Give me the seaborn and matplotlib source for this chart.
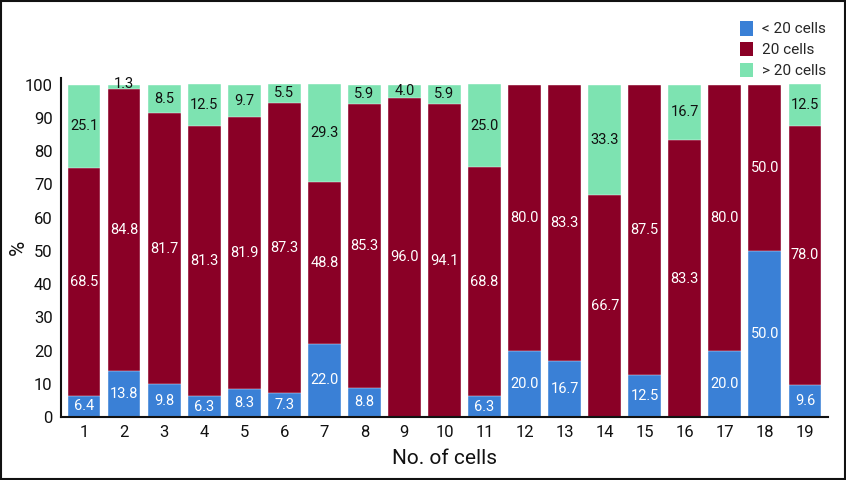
import numpy as np
import pandas as pd
import matplotlib
matplotlib.use("Agg")
import matplotlib.pyplot as plt
import seaborn as sns
from matplotlib.patches import Rectangle, Patch

categories = [str(i) for i in range(1, 20)]
lt20 = [6.4, 13.8, 9.8, 6.3, 8.3, 7.3, 22.0, 8.8, 0, 0, 6.3, 20.0, 16.7, 0, 12.5, 0, 20.0, 50.0, 9.6]
eq20 = [68.5, 84.8, 81.7, 81.3, 81.9, 87.3, 48.8, 85.3, 96.0, 94.1, 68.8, 80.0, 83.3, 66.7, 87.5, 83.3, 80.0, 50.0, 78.0]
gt20 = [25.1, 1.3, 8.5, 12.5, 9.7, 5.5, 29.3, 5.9, 4.0, 5.9, 25.0, 0, 0, 33.3, 0, 16.7, 0, 0, 12.5]
series_names = ["< 20 cells", "20 cells", "> 20 cells"]
colors = ["#3A80D6", "#8A0026", "#7DE3B1"]

sns.set_theme(style="white")
plt.rcParams["font.family"] = ["Roboto", "DejaVu Sans"]

df = pd.DataFrame({"cat": categories, "a": lt20, "b": eq20, "c": gt20})
df["ab"] = df["a"] + df["b"]
df["abc"] = df["ab"] + df["c"]

fig = plt.figure(figsize=(8.46, 4.8), dpi=100)
ax = fig.add_axes([0.0721, 0.13125, 0.9787 - 0.0721, 0.8375 - 0.13125])

w = 0.82
sns.barplot(data=df, x="cat", y="abc", color=colors[2], width=w, ax=ax, saturation=1, edgecolor="white", linewidth=0.3)
sns.barplot(data=df, x="cat", y="ab", color=colors[1], width=w, ax=ax, saturation=1, edgecolor="white", linewidth=0.3)
sns.barplot(data=df, x="cat", y="a", color=colors[0], width=w, ax=ax, saturation=1, edgecolor="white", linewidth=0.3)

for i in range(len(categories)):
    a, b, c = lt20[i], eq20[i], gt20[i]
    if a > 0:
        ax.text(i, a / 2, f"{a:.1f}", ha="center", va="center", color="white", fontsize=10.5)
    if b > 0:
        ax.text(i, a + b / 2, f"{b:.1f}", ha="center", va="center", color="white", fontsize=10.5)
    if c > 0:
        yc = a + b + c / 2
        if c < 3:
            yc = a + b + c / 2 + 0.9
        ax.text(i, yc, f"{c:.1f}", ha="center", va="center", color="#111111", fontsize=10.5)

ax.set_xlim(-0.575, len(categories) - 1 + 0.575)
ax.set_ylim(0, 102)
ax.set_yticks(np.arange(0, 101, 10))
ax.tick_params(axis="both", length=0, labelsize=12, colors="#111111", pad=6)
ax.set_xlabel("No. of cells", fontsize=15, color="#111111", labelpad=6)
ax.set_ylabel("%", fontsize=15, color="#111111", ha="center", va="center")
ax.yaxis.set_label_coords(-0.056, 0.5)
for s in ["top", "right"]:
    ax.spines[s].set_visible(False)
for s in ["left", "bottom"]:
    ax.spines[s].set_color("#111111")
    ax.spines[s].set_linewidth(1.5)

handles = [Patch(facecolor=colors[k], edgecolor="none") for k in range(3)]
fig.legend(handles, series_names, loc="upper right", bbox_to_anchor=(0.993, 0.985),
           frameon=False, fontsize=11, handlelength=0.85, handleheight=1.1,
           handletextpad=0.6, labelspacing=0.35)

fig.add_artist(Rectangle((0.001, 0.002), 0.998, 0.996, transform=fig.transFigure,
                         fill=False, edgecolor="#111111", linewidth=1.5))

fig.savefig("out.png", dpi=100)
